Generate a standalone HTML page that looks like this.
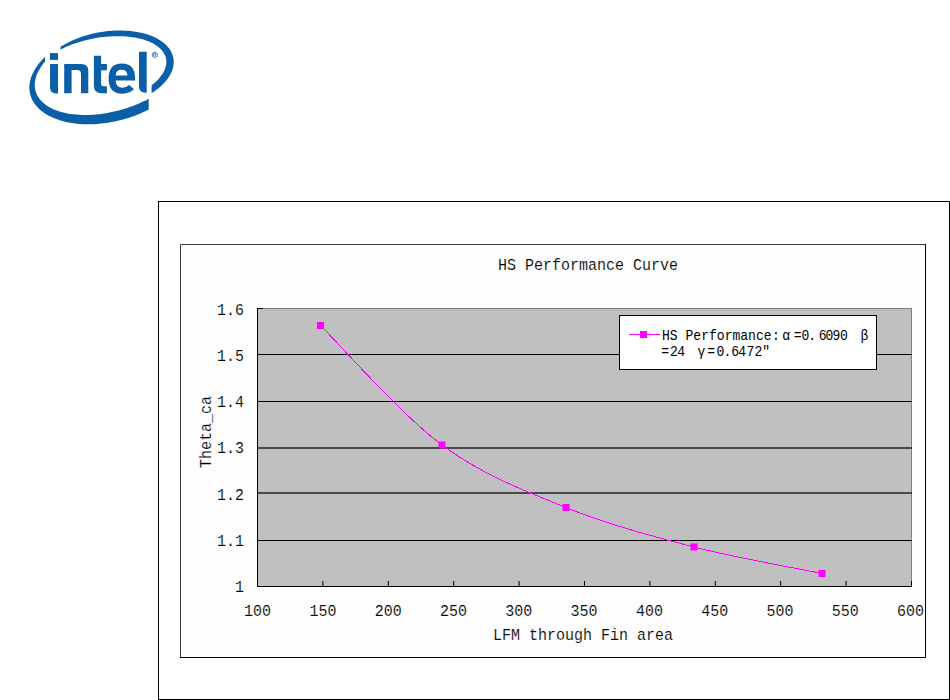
<!DOCTYPE html>
<html><head><meta charset="utf-8">
<style>
html,body{margin:0;padding:0;background:#fff;}
body{width:950px;height:700px;overflow:hidden;position:relative;}
svg{position:absolute;left:0;top:0;}
text{font-family:"Liberation Mono",monospace;fill:#000;stroke:#fdfdfd;stroke-width:0.15px;}
</style></head><body>
<svg width="950" height="700" viewBox="0 0 950 700">
<g fill="#0b5ea8">
<path d="M60.50 46.81 L63.13 45.20 L65.88 43.65 L68.74 42.16 L71.70 40.76 L74.74 39.43 L77.88 38.18 L81.08 37.01 L84.35 35.94 L87.68 34.95 L91.06 34.06 L94.48 33.26 L97.93 32.56 L101.40 31.96 L104.88 31.46 L108.37 31.06 L111.85 30.77 L115.31 30.58 L118.75 30.49 L122.16 30.51 L125.52 30.64 L128.83 30.86 L132.08 31.20 L135.26 31.63 L138.37 32.17 L141.38 32.80 L144.31 33.54 L147.13 34.37 L149.85 35.30 L152.44 36.32 L154.92 37.43 L157.26 38.62 L159.47 39.90 L161.54 41.26 L163.46 42.70 L165.23 44.20 L166.84 45.78 L168.29 47.42 L169.58 49.12 L170.69 50.87 L171.64 52.68 L172.41 54.53 L173.01 56.43 L173.42 58.35 L173.66 60.32 L173.72 62.30 L173.60 64.31 L173.31 66.33 L172.83 68.36 L172.18 70.40 L171.35 72.43 L170.34 74.46 L169.17 76.48 L167.83 78.48 L166.33 80.46 L164.66 82.41 L162.84 84.32 L160.87 86.20 L158.76 88.04 L156.50 89.83 L154.12 91.57 L151.60 93.22 L151.60 85.32 L153.14 84.12 L155.12 82.40 L156.96 80.65 L158.64 78.88 L160.17 77.09 L161.54 75.28 L162.74 73.47 L163.78 71.65 L164.64 69.83 L165.33 68.01 L165.85 66.20 L166.19 64.41 L166.35 62.64 L166.34 60.89 L166.15 59.17 L165.78 57.48 L165.24 55.82 L164.52 54.22 L163.63 52.65 L162.57 51.14 L161.34 49.68 L159.95 48.28 L158.39 46.94 L156.68 45.66 L154.82 44.46 L152.82 43.32 L150.67 42.26 L148.38 41.28 L145.97 40.38 L143.43 39.56 L140.77 38.83 L138.01 38.18 L135.14 37.62 L132.18 37.15 L129.13 36.78 L126.01 36.49 L122.81 36.30 L119.55 36.20 L116.24 36.20 L112.88 36.29 L109.49 36.47 L106.07 36.74 L102.63 37.11 L99.19 37.57 L95.74 38.12 L92.31 38.76 L88.89 39.48 L85.50 40.29 L82.15 41.18 L78.85 42.16 L75.60 43.21 L72.41 44.33 L69.29 45.53 L66.25 46.80 L63.31 48.13 L60.50 49.53Z"/>
<path d="M148.70 109.52 L145.65 111.07 L142.47 112.55 L139.21 113.96 L135.90 115.28 L132.52 116.52 L129.10 117.67 L125.63 118.74 L122.13 119.72 L118.59 120.61 L115.04 121.40 L111.47 122.10 L107.90 122.70 L104.32 123.21 L100.76 123.61 L97.21 123.92 L93.68 124.13 L90.18 124.23 L86.72 124.23 L83.30 124.14 L79.94 123.94 L76.63 123.64 L73.39 123.25 L70.21 122.75 L67.12 122.16 L64.11 121.47 L61.19 120.68 L58.37 119.80 L55.65 118.83 L53.04 117.77 L50.55 116.62 L48.17 115.39 L45.91 114.08 L43.79 112.68 L41.79 111.21 L39.93 109.66 L38.22 108.04 L36.64 106.36 L35.22 104.61 L33.94 102.80 L32.82 100.93 L31.85 99.01 L31.04 97.04 L30.39 95.03 L29.90 92.98 L29.57 90.89 L29.40 88.76 L29.39 86.61 L29.55 84.44 L29.87 82.25 L30.35 80.04 L30.98 77.82 L31.78 75.60 L32.74 73.38 L33.85 71.16 L35.11 68.95 L36.53 66.75 L38.09 64.57 L39.79 62.41 L41.64 60.28 L43.62 58.18 L45.00 56.82 L45.00 61.63 L43.54 63.37 L42.00 65.41 L40.61 67.45 L39.36 69.49 L38.26 71.54 L37.30 73.58 L36.50 75.62 L35.84 77.64 L35.35 79.65 L35.00 81.64 L34.81 83.60 L34.78 85.53 L34.90 87.44 L35.18 89.30 L35.62 91.13 L36.20 92.91 L36.95 94.65 L37.84 96.33 L38.88 97.96 L40.07 99.53 L41.40 101.04 L42.88 102.49 L44.49 103.87 L46.25 105.17 L48.13 106.41 L50.14 107.57 L52.28 108.65 L54.53 109.66 L56.90 110.58 L59.39 111.42 L61.97 112.17 L64.66 112.83 L67.44 113.41 L70.31 113.89 L73.26 114.29 L76.29 114.59 L79.39 114.80 L82.55 114.92 L85.77 114.95 L89.04 114.88 L92.36 114.72 L95.71 114.47 L99.09 114.13 L102.50 113.70 L105.92 113.17 L109.36 112.56 L112.79 111.85 L116.22 111.07 L119.64 110.19 L123.04 109.24 L126.41 108.20 L129.75 107.08 L133.05 105.89 L136.31 104.62 L139.51 103.28 L142.65 101.87 L145.72 100.40 L148.70 98.86Z"/>
<rect x="50" y="53.1" width="8" height="6.8"/>
<path d="M50 64.1H58V93.5H56.5Q50 93.5 50 87Z"/>
<path d="M64.2 93.2V64.1H81.3Q88.3 64.1 88.3 71V93.2H81V74Q81 69.9 77 69.9H71.6V93.2Z"/>
<path d="M93.9 55.8H101.1V64H106.9V70.3H101.1V84Q101.1 86.3 103.4 86.3H106.9V93.3H101.4Q93.9 93.3 93.9 85.8Z"/>
<path fill-rule="evenodd" d="M135.1 80.6H115.7Q116 87.7 122.3 87.7Q126.5 87.7 129.1 84.9L134 89.1Q130 93.7 122.3 93.7Q108.6 93.7 108.6 78.5Q108.6 63.4 121.8 63.4Q135.1 63.4 135.1 78.5ZM115.7 75.4H127.4Q127.4 69.7 121.5 69.7Q115.7 69.7 115.7 75.4Z"/>
<path d="M139 51.7H146.7V92.7H145.5Q139 92.7 139 86.2Z"/>
<circle cx="154.8" cy="54.9" r="2.6" fill="none" stroke="#0b5ea8" stroke-width="0.8" opacity="0.9"/><path d="M153.6 56.8V53.1H155.2Q156.2 53.1 156.2 54Q156.2 54.8 155.2 54.8H153.6M155 54.8L156.2 56.8" fill="none" stroke="#0b5ea8" stroke-width="0.7" opacity="0.8"/>
</g>
<rect x="158.5" y="201.5" width="791" height="498" fill="#fff" stroke="#000" stroke-width="1"/>
<rect x="180" y="244" width="746" height="414" fill="#fdfdfd"/><path d="M180.5 658V244.5H926" fill="none" stroke="#3a3a3a" stroke-width="1"/><path d="M180 657.5H925.5V244" fill="none" stroke="#000" stroke-width="1"/>
<rect x="257.5" y="308.5" width="654" height="278" fill="#c0c0c0" stroke="#808080" stroke-width="1"/>
<g stroke="#000" stroke-width="1">
<line x1="257" y1="354.5" x2="912" y2="354.5"/>
<line x1="257" y1="401.5" x2="912" y2="401.5"/>
<line x1="257" y1="448" x2="912" y2="448" stroke-width="1.3" stroke="#222"/>
<line x1="257" y1="493" x2="912" y2="493" stroke-width="1.3" stroke="#222"/>
<line x1="257" y1="540.5" x2="912" y2="540.5"/>
<line x1="257.5" y1="308" x2="257.5" y2="587"/>
<line x1="257" y1="586.5" x2="912" y2="586.5"/>
<line x1="257" y1="308.5" x2="263" y2="308.5"/>
<line x1="322.90" y1="581" x2="322.90" y2="586"/>
<line x1="388.30" y1="581" x2="388.30" y2="586"/>
<line x1="453.70" y1="581" x2="453.70" y2="586"/>
<line x1="519.10" y1="581" x2="519.10" y2="586"/>
<line x1="584.50" y1="581" x2="584.50" y2="586"/>
<line x1="649.90" y1="581" x2="649.90" y2="586"/>
<line x1="715.30" y1="581" x2="715.30" y2="586"/>
<line x1="780.70" y1="581" x2="780.70" y2="586"/>
<line x1="846.10" y1="581" x2="846.10" y2="586"/>
<line x1="911.50" y1="581" x2="911.50" y2="586"/>
</g>
<text x="0" y="0" transform="translate(244.00 314.50) scale(0.882 1)" font-size="17" text-anchor="end">1.6</text>
<text x="0" y="0" transform="translate(244.00 360.83) scale(0.882 1)" font-size="17" text-anchor="end">1.5</text>
<text x="0" y="0" transform="translate(244.00 407.16) scale(0.882 1)" font-size="17" text-anchor="end">1.4</text>
<text x="0" y="0" transform="translate(244.00 453.49) scale(0.882 1)" font-size="17" text-anchor="end">1.3</text>
<text x="0" y="0" transform="translate(244.00 499.82) scale(0.882 1)" font-size="17" text-anchor="end">1.2</text>
<text x="0" y="0" transform="translate(244.00 546.15) scale(0.882 1)" font-size="17" text-anchor="end">1.1</text>
<text x="0" y="0" transform="translate(244.00 592.48) scale(0.882 1)" font-size="17" text-anchor="end">1</text>
<text x="0" y="0" transform="translate(257.60 616.00) scale(0.882 1)" font-size="17" text-anchor="middle">100</text>
<text x="0" y="0" transform="translate(322.90 616.00) scale(0.882 1)" font-size="17" text-anchor="middle">150</text>
<text x="0" y="0" transform="translate(388.20 616.00) scale(0.882 1)" font-size="17" text-anchor="middle">200</text>
<text x="0" y="0" transform="translate(453.50 616.00) scale(0.882 1)" font-size="17" text-anchor="middle">250</text>
<text x="0" y="0" transform="translate(518.80 616.00) scale(0.882 1)" font-size="17" text-anchor="middle">300</text>
<text x="0" y="0" transform="translate(584.10 616.00) scale(0.882 1)" font-size="17" text-anchor="middle">350</text>
<text x="0" y="0" transform="translate(649.40 616.00) scale(0.882 1)" font-size="17" text-anchor="middle">400</text>
<text x="0" y="0" transform="translate(714.70 616.00) scale(0.882 1)" font-size="17" text-anchor="middle">450</text>
<text x="0" y="0" transform="translate(780.00 616.00) scale(0.882 1)" font-size="17" text-anchor="middle">500</text>
<text x="0" y="0" transform="translate(845.30 616.00) scale(0.882 1)" font-size="17" text-anchor="middle">550</text>
<text x="0" y="0" transform="translate(910.60 616.00) scale(0.882 1)" font-size="17" text-anchor="middle">600</text>
<text x="0" y="0" transform="translate(588.00 270.00) scale(0.882 1)" font-size="17" text-anchor="middle">HS Performance Curve</text>
<text x="0" y="0" transform="translate(583.00 640.00) scale(0.882 1)" font-size="17" text-anchor="middle">LFM through Fin area</text>
<text x="0" y="0" transform="translate(211.00 432.00) rotate(-90) scale(0.882 1)" font-size="17" text-anchor="middle">Theta_ca</text>
<path d="M320 325 C340.3 345.0 401.0 414.6 442.0 445.0 C483.0 475.4 524.0 490.5 566.0 507.5 C608.0 524.5 651.3 536.0 694.0 547.0 C736.7 558.0 800.7 569.1 822.0 573.5" fill="none" stroke="#ff00ff" stroke-width="1" shape-rendering="crispEdges"/>
<g fill="#ff00ff">
<rect x="317" y="322" width="7" height="7"/>
<rect x="438.5" y="441.5" width="7" height="7"/>
<rect x="562.5" y="504" width="7" height="7"/>
<rect x="690.5" y="543.5" width="7" height="7"/>
<rect x="818.5" y="570" width="7" height="7"/>
</g>
<rect x="619.5" y="315.5" width="257" height="54" fill="#fff" stroke="#000" stroke-width="1"/>
<line x1="629" y1="334.5" x2="660" y2="334.5" stroke="#ff00ff" stroke-width="1"/>
<rect x="640" y="331" width="7" height="7" fill="#ff00ff"/>
<text x="2.15 10.55 18.95 27.35 35.75 44.15 52.55 60.95 69.36 77.76 86.16 94.56 102.96 111.36 120.28 131.22 137.45 143.56 151.93 159.12 170.28 177.47 185.19 193.24 202.90 215.02" y="0" transform="translate(660 339.5) scale(0.932 1)" font-size="14" style="stroke:none">HS Performance:α =0.6090 β</text>
<text x="1.39 10.84 18.56 29.08 40.34 50.75 60.52 68.13 76.50 84.01 92.70 101.50 109.76" y="0" transform="translate(660 355.5) scale(0.932 1)" font-size="14" style="stroke:none">=24 γ=0.6472"</text>
</svg>
</body></html>
